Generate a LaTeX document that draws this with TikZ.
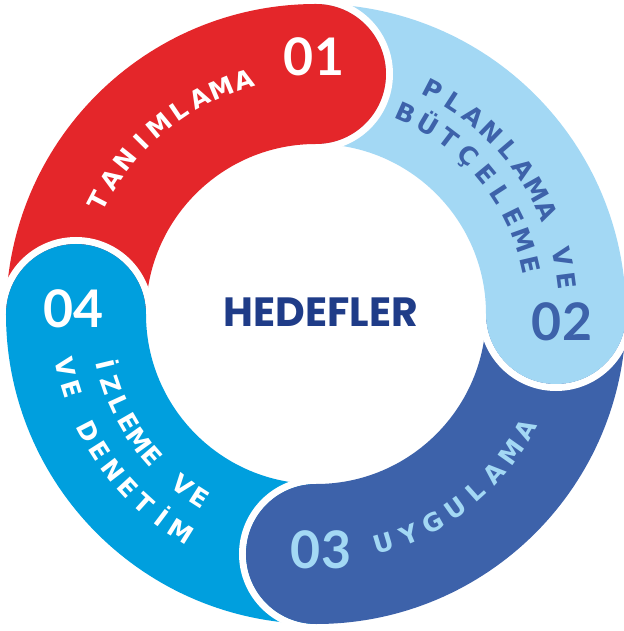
\documentclass[tikz,border=0pt]{standalone}
\usepackage{fontspec}
\setmainfont{Poppins}
\newfontfamily\numfont{Lato}
\newfontfamily\arcfamily{DejaVu Sans}

\definecolor{segred}{HTML}{E4262A}
\definecolor{seglight}{HTML}{A3D8F4}
\definecolor{segdark}{HTML}{3D62AA}
\definecolor{segcyan}{HTML}{009FDE}
\definecolor{goalblue}{HTML}{1F3C88}

\newcommand{\arcfont}{\arcfamily\bfseries\fontsize{25}{25}\selectfont}
\newlength{\chw}
% #1 colour, #2 baseline radius, #3 start angle, #4 end angle,
% #5 1 = clockwise (tops out), -1 = anticlockwise (tops in), #6 letters
\newcommand{\arcword}[6]{%
	\xdef\arcsum{0}\xdef\arccount{0}%
	\foreach \ch in {#6}{%
		\settowidth{\chw}{\arcfont\ch}%
		\pgfmathsetmacro{\tmp}{\arcsum+\chw}\xdef\arcsum{\tmp}%
		\pgfmathtruncatemacro{\tmp}{\arccount+1}\xdef\arccount{\tmp}%
	}%
	\pgfmathsetmacro{\track}{(abs(#4-#3)*pi/180*#2-\arcsum)/(\arccount-1)}%
	\xdef\arcpos{0}%
	\foreach \ch in {#6}{%
		\settowidth{\chw}{\arcfont\ch}%
		\pgfmathsetmacro{\chwd}{\chw}%
		\pgfmathsetmacro{\ang}{#3-#5*(\arcpos+\chwd/2)/#2*180/pi}%
		\node[font=\arcfont,text=#1,anchor=base,inner sep=0pt,rotate=\ang-#5*90] at (\ang:#2) {\ch};%
		\pgfmathsetmacro{\tmp}{\arcpos+\chwd+\track}\xdef\arcpos{\tmp}%
	}%
}

\begin{document}
\begin{tikzpicture}[x=1bp,y=1bp,
		band/.style={line width=140bp},
		numlabel/.style={font=\numfont\bfseries\fontsize{52}{52}\selectfont,inner sep=0pt}]
	\useasboundingbox (-316,-317) rectangle (308,314);

	% ring bodies
	\begin{scope}[band]
		\draw[segred] (180:240) arc[start angle=180,end angle=90,radius=240];
		\draw[seglight] (90:240) arc[start angle=90,end angle=0,radius=240];
		\draw[segdark] (0:240) arc[start angle=0,end angle=-90,radius=240];
		\draw[segcyan] (-90:240) arc[start angle=-90,end angle=-180,radius=240];
	\end{scope}

	% rounded heads with white rim
	\foreach \ang/\col in {90/segred,0/seglight,-90/segdark,180/segcyan}{
		\draw[white,line width=7bp] (\ang:313.5) arc[start angle=\ang,end angle=\ang-180,radius=73.5];
		\fill[\col] (\ang:240) circle[radius=70];
	}

	% curved labels
	\arcword{white}{236}{152.5}{107}{1}{T,A,N,I,M,L,A,M,A}
	\arcword{segdark}{244}{62.5}{7.5}{1}{P,L,A,N,L,A,M,A,\ ,V,E}
	\arcword{segdark}{211}{66}{13}{1}{B,Ü,T,Ç,E,L,E,M,E}
	\arcword{seglight}{248}{-73.5}{-29}{-1}{U,Y,G,U,L,A,M,A}
	\arcword{white}{226}{193.5}{237.5}{-1}{İ,Z,L,E,M,E,\ ,V,E}
	\arcword{white}{265}{192}{238}{-1}{V,E,\ ,D,E,N,E,T,İ,M}

	% step numbers and centre
	\node[numlabel,white] (n01) at (-2,257) {01};
	\node[numlabel,segdark] (n02) at (246,-8) {02};
	\node[numlabel,seglight] (n03) at (5,-236) {03};
	\node[numlabel,white] (n04) at (-242,5) {04};
	\node[font=\bfseries\fontsize{41}{41}\selectfont,text=goalblue,inner sep=0pt] (goal) at (5,2) {HEDEFLER};
\end{tikzpicture}
\end{document}
